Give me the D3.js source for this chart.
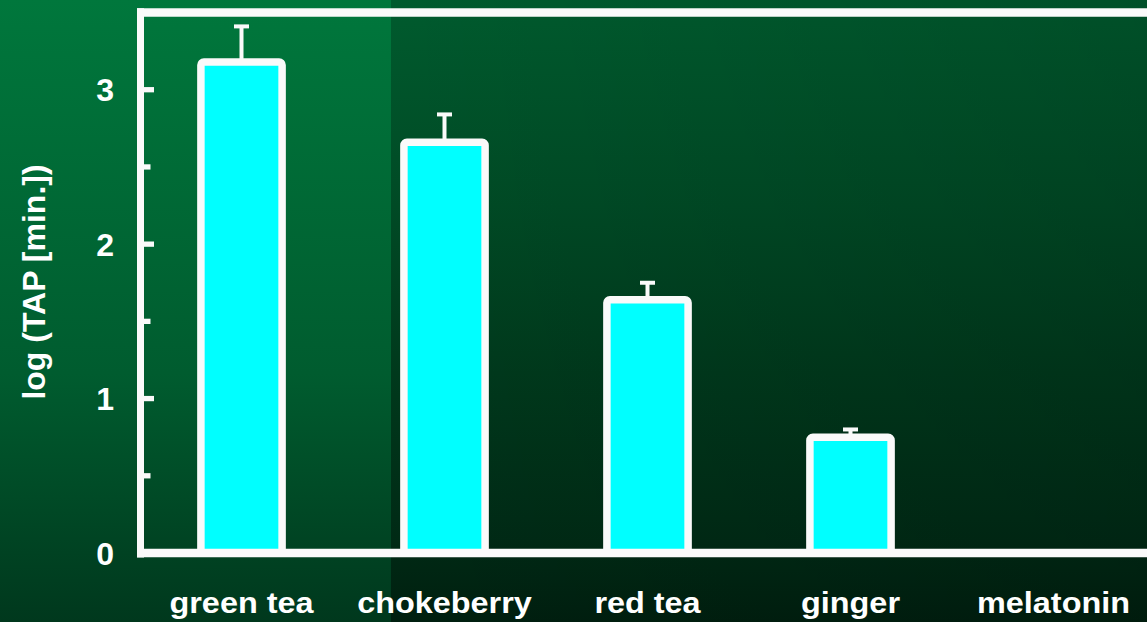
<!DOCTYPE html>
<html>
<head>
<meta charset="utf-8">
<script src="https://cdn.jsdelivr.net/npm/d3@7"></script>
<style>
  html, body { margin: 0; padding: 0; background: #003a1d; overflow: hidden; }
  svg { display: block; }
  text { font-family: "Liberation Sans", Arial, sans-serif; font-weight: bold; fill: #ffffff; }
</style>
</head>
<body>
<svg id="chart" width="1147" height="622"></svg>
<script>
// Antioxidant capacity per sample, log(TAP) in minutes
const categories = ["green tea", "chokeberry", "red tea", "ginger", "melatonin"];
const meanValues = [3.18, 2.66, 1.64, 0.75, 0];
const errorTops  = [3.41, 2.84, 1.75, 0.80, 0];
const yTickLabels = [0, 1, 2, 3];
const yAxisTitle = "log (TAP [min.])";

const W = 1147, H = 622;
const svg = d3.select("#chart");

// Background panels
const defs = svg.append("defs");
const gLeft = defs.append("linearGradient").attr("id", "bgLeft")
  .attr("x1", 0).attr("y1", 0).attr("x2", 0).attr("y2", 1);
[[0, "#00773c"], [0.6, "#005c2f"], [1, "#00381d"]].forEach(([o, c]) =>
  gLeft.append("stop").attr("offset", o).attr("stop-color", c));

const gRight = defs.append("linearGradient").attr("id", "bgRight")
  .attr("x1", 0).attr("y1", 0).attr("x2", 0).attr("y2", 1);
[[0, "#005b2e"], [0.33, "#004a25"], [0.6, "#00391c"], [0.87, "#002a15"], [1, "#001f0f"]].forEach(([o, c]) =>
  gRight.append("stop").attr("offset", o).attr("stop-color", c));

const gShade = defs.append("linearGradient").attr("id", "bgShade")
  .attr("x1", 0).attr("y1", 0).attr("x2", 1).attr("y2", 0);
[[0, 0], [1, 0.12]].forEach(([o, a]) =>
  gShade.append("stop").attr("offset", o).attr("stop-color", "#000").attr("stop-opacity", a));

const split = 391;
svg.append("rect").attr("x", 0).attr("y", 0).attr("width", split).attr("height", H).attr("fill", "url(#bgLeft)");
svg.append("rect").attr("x", split).attr("y", 0).attr("width", W - split).attr("height", H).attr("fill", "url(#bgRight)");
svg.append("rect").attr("x", split).attr("y", 0).attr("width", W - split).attr("height", H).attr("fill", "url(#bgShade)");

// Scales
const x = d3.scaleBand().domain(categories).range([140, 1155]).padding(0);
const y = d3.scaleLinear().domain([0, 3.5]).range([553, 12.5]);
const barW = x.step() * 0.4;
const axisX = 140.5;

// Frame: top line, left axis, bottom axis
svg.append("line").attr("x1", axisX - 3.5).attr("x2", W + 5)
  .attr("y1", y(3.5)).attr("y2", y(3.5))
  .attr("stroke", "#fafafa").attr("stroke-width", 8.5);
svg.append("line").attr("x1", axisX).attr("x2", axisX)
  .attr("y1", y(3.5) - 4.25).attr("y2", y(0) + 4.5)
  .attr("stroke", "#fafafa").attr("stroke-width", 7);

// Y ticks: majors at integers, minors at halves
const tickVals = d3.range(0, 3.01, 0.5).filter(v => v > 0);
svg.append("g").selectAll("line").data(tickVals).join("line")
  .attr("x1", axisX + 3)
  .attr("x2", d => axisX + 3 + (Number.isInteger(d) ? 10.5 : 7))
  .attr("y1", d => y(d)).attr("y2", d => y(d))
  .attr("stroke", "#fafafa").attr("stroke-width", 5.3);

svg.append("g").selectAll("text").data(yTickLabels).join("text")
  .attr("x", 114).attr("y", d => y(d))
  .attr("dy", "0.36em")
  .attr("text-anchor", "end")
  .style("font-size", "32px")
  .text(d => d);

// Y axis title
svg.append("text")
  .attr("transform", `translate(45,282) rotate(-90)`)
  .attr("text-anchor", "middle")
  .style("font-size", "32px")
  .text(yAxisTitle);

// Error bars
const eb = svg.append("g");
categories.forEach((c, i) => {
  if (errorTops[i] <= meanValues[i]) return;
  const cx = x(c) + x.bandwidth() / 2;
  eb.append("line").attr("x1", cx).attr("x2", cx)
    .attr("y1", y(meanValues[i])).attr("y2", y(errorTops[i]))
    .attr("stroke", "#fafafa").attr("stroke-width", 4);
  eb.append("line").attr("x1", cx - 7.5).attr("x2", cx + 7.5)
    .attr("y1", y(errorTops[i])).attr("y2", y(errorTops[i]))
    .attr("stroke", "#fafafa").attr("stroke-width", 4);
});

// Bars
svg.append("g").selectAll("rect").data(categories).join("rect")
  .attr("x", d => x(d) + (x.bandwidth() - barW) / 2)
  .attr("width", barW)
  .attr("y", (d, i) => y(meanValues[i]))
  .attr("height", (d, i) => y(0) - y(meanValues[i]))
  .attr("rx", 3)
  .attr("fill", "#00ffff")
  .attr("stroke", "#fafafa")
  .attr("stroke-width", 7.5)
  .style("display", (d, i) => meanValues[i] > 0 ? null : "none");

// Bottom axis line drawn over bar bases
svg.append("line").attr("x1", axisX - 3.5).attr("x2", W + 5)
  .attr("y1", y(0)).attr("y2", y(0))
  .attr("stroke", "#fafafa").attr("stroke-width", 8.7);

// Category labels
svg.append("g").selectAll("text").data(categories).join("text")
  .attr("transform", d => `translate(${x(d) + x.bandwidth() / 2},613) scale(1.08,1)`)
  .attr("text-anchor", "middle")
  .style("font-size", "30px")
  .text(d => d);
</script>
</body>
</html>
